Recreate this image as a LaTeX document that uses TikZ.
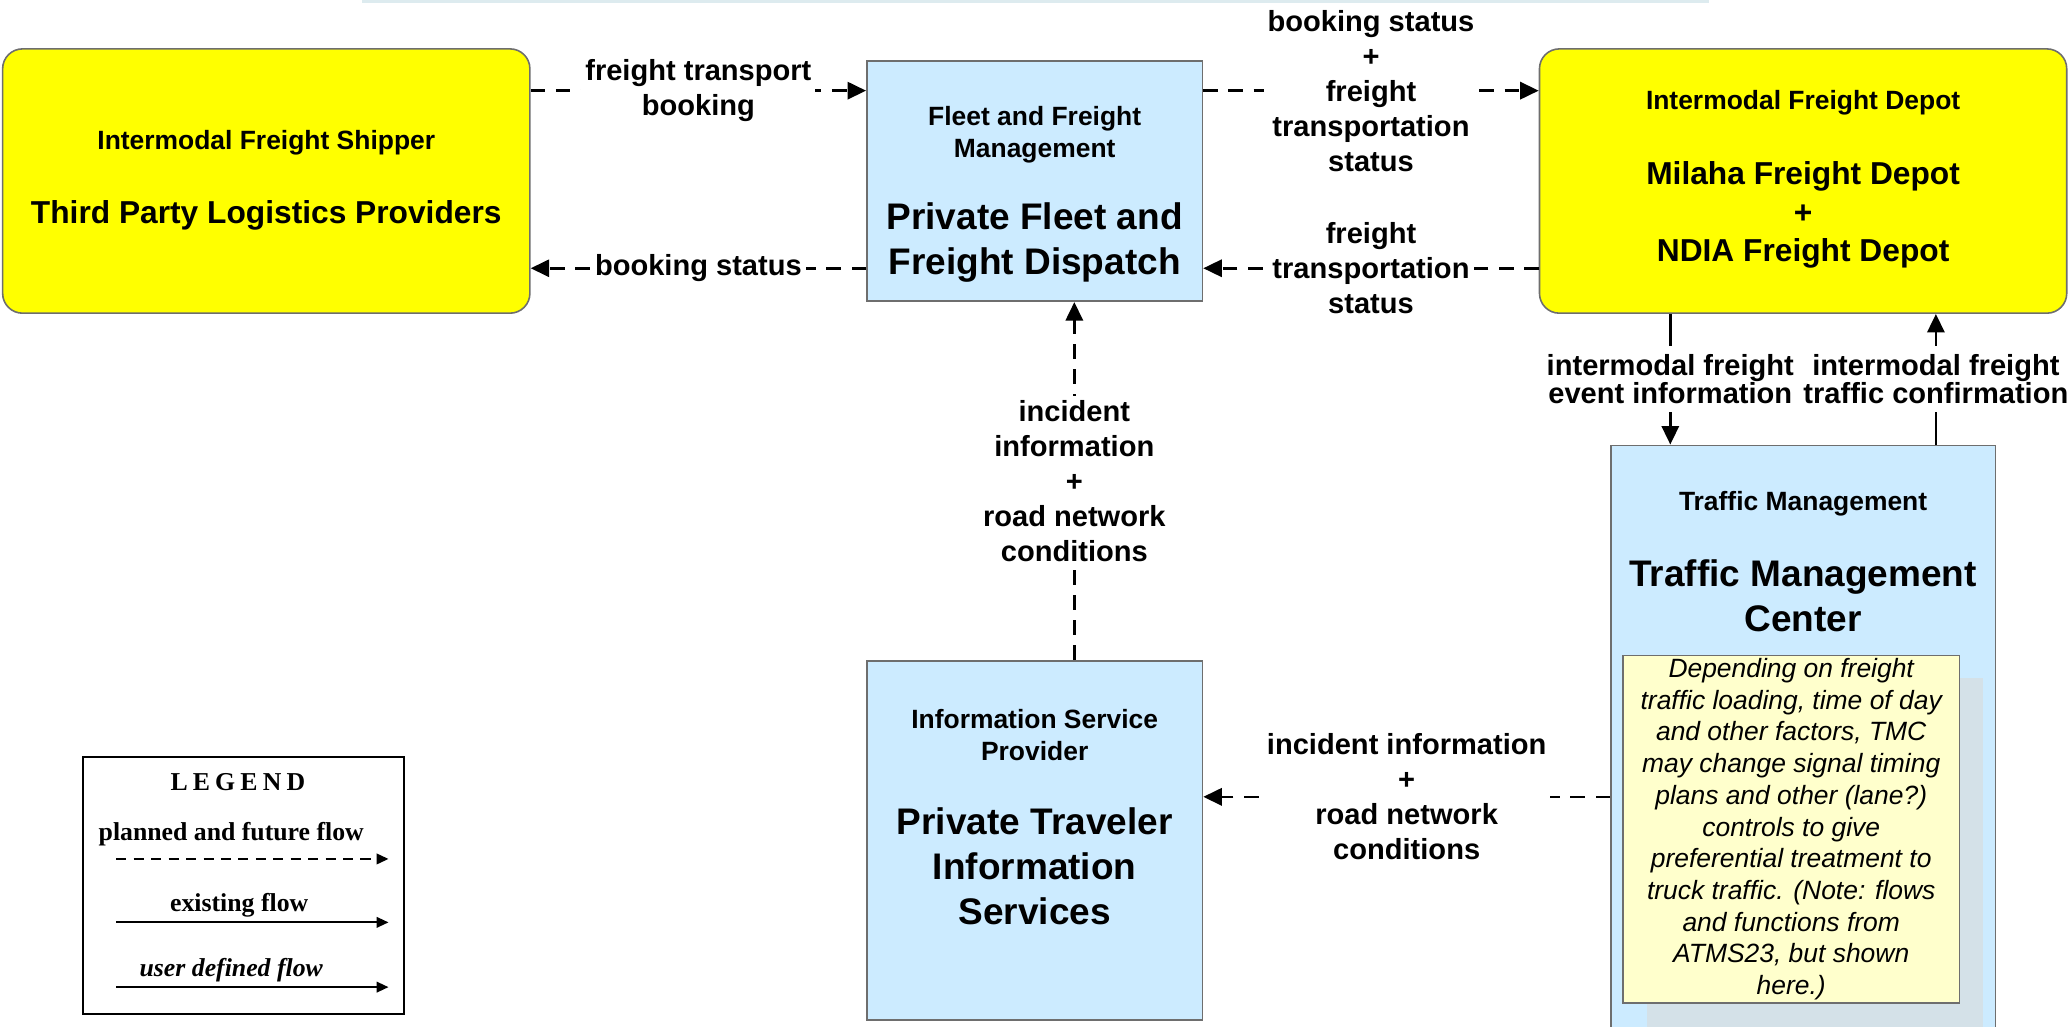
\documentclass[tikz,border=0pt]{standalone}
\usepackage{fontspec}
\setmainfont{Liberation Sans}
\newfontfamily\legendfont{Liberation Serif}
\usepackage{tikz}
\usetikzlibrary{shapes,arrows.meta,positioning,calc}
\usepackage{xcolor}

\definecolor{boxblue}{HTML}{CCEBFF}
\definecolor{depotyellow}{HTML}{FFFF00}
\definecolor{noteyellow}{HTML}{FFFFCC}
\definecolor{shadowgray}{HTML}{D4E1E8}
\definecolor{edgegray}{HTML}{6E6E6E}
\definecolor{topline}{HTML}{DDEBEF}

\begin{document}
\begin{tikzpicture}[
    x=0.5pt, y=-0.5pt,
    every node/.style={font=\bfseries},
    yellowbox/.style={rectangle, draw=edgegray, line width=0.6pt, fill=depotyellow, rounded corners=7.5pt, minimum width=199.5pt, minimum height=100pt, inner sep=0pt},
    bluebox/.style={rectangle, draw=edgegray, line width=0.6pt, fill=boxblue, inner sep=0pt},
    typetext/.style={font=\bfseries\fontsize{10}{12}\selectfont, align=center},
    nametext/.style={font=\bfseries\fontsize{14}{17}\selectfont, align=center},
    flowlabel/.style={font=\bfseries\fontsize{11}{13.25}\selectfont, align=center, fill=white, inner sep=1.5pt},
    arrow/.style={-{Triangle[length=7pt, width=6.5pt]}, line width=1pt},
    planned/.style={arrow, dash pattern=on 5.5pt off 4pt},
    legendtext/.style={font=\legendfont\bfseries\fontsize{9.75}{11}\selectfont},
    legendarrow/.style={-{Triangle[length=4.5pt, width=4pt]}, line width=0.75pt}
]
\useasboundingbox (0,0) rectangle (1568,777);
\clip (0,0) rectangle (1568,777);

% faint edge at the top
\fill[topline] (274,0) rectangle (1293,2.5);

% ============ FREIGHT SIDE (TOP) ============
\node[yellowbox] (shipper) at (201.5,137) {};
\node[typetext] (shipper_type) at (201.5,108) {Intermodal Freight Shipper};
\node[font=\bfseries\fontsize{12}{14.5}\selectfont] (shipper_name) at (201.5,162.7) {Third Party Logistics Providers};

\node[bluebox, minimum width=127pt, minimum height=91pt] (fleet_mgmt) at (783,137) {};
\node[typetext] (fleet_type) at (783,102) {Fleet and Freight\\Management};
\node[nametext] (fleet_name) at (783,183.5) {Private Fleet and\\Freight Dispatch};

\node[yellowbox] (depot) at (1364.5,137) {};
\node[typetext] (depot_type) at (1364.5,78) {Intermodal Freight Depot};
\node[font=\bfseries\fontsize{12}{14.5}\selectfont, align=center] (depot_name) at (1364.5,162.7) {Milaha Freight Depot\\+\\NDIA Freight Depot};

% ============ TRAVELER SIDE (BOTTOM) ============
\node[bluebox, minimum width=127pt, minimum height=136pt] (isp) at (783,636) {};
\node[typetext] (isp_type) at (783,556.3) {Information Service\\Provider};
\node[nametext] (isp_name) at (783,655.5) {Private Traveler\\Information\\Services};

\node[bluebox, minimum width=145.5pt, minimum height=231.5pt] (tmc) at (1364.5,568.5) {};
\node[typetext] (tmc_type) at (1364.5,381) {Traffic Management};
\node[nametext] (tmc_name) at (1364.5,451) {Traffic Management\\Center};

% note with its shadow
\fill[shadowgray] (1246,513) rectangle (1501,800);
\node[rectangle, draw=edgegray, line width=0.6pt, fill=noteyellow, minimum width=127.5pt, minimum height=131.5pt, inner sep=0pt,
      font=\itshape\mdseries\fontsize{10}{12}\selectfont, align=center] (tmc_note) at (1355.5,627.5)
      {Depending on freight\\traffic loading, time of day\\and other factors, TMC\\may change signal timing\\plans and other (lane?)\\controls to give\\preferential treatment to\\truck traffic. (Note: flows\\and functions from\\ATMS23, but shown\\here.)};

% ============ FLOWS ============
\draw[planned] ([yshift=34.2pt]shipper.east) -- node[flowlabel] (lbl_booking) {freight transport\\booking} ([yshift=34.2pt]fleet_mgmt.west);
\draw[planned] ([yshift=-33pt]fleet_mgmt.west) -- node[flowlabel] (lbl_status) {booking status} ([yshift=-33pt]shipper.east);
\draw[planned] ([yshift=34.2pt]fleet_mgmt.east) -- node[flowlabel] (lbl_both) {booking status\\+\\freight\\transportation\\status} ([yshift=34.2pt]depot.west);
\draw[planned] ([yshift=-33pt]depot.west) -- node[flowlabel] (lbl_transp) {freight\\transportation\\status} ([yshift=-33pt]fleet_mgmt.east);
\draw[planned] ([xshift=15pt]isp.north) -- node[flowlabel] (lbl_incident) {incident\\information\\+\\road network\\conditions} ([xshift=15pt]fleet_mgmt.south);
\draw[arrow] ([xshift=-50.25pt]depot.south) -- node[flowlabel, font=\bfseries\fontsize{11}{10.75}\selectfont, inner sep=3pt] (lbl_event) {intermodal freight\\event information} ([xshift=-50.25pt]tmc.north);
\draw[arrow] ([xshift=50.25pt]tmc.north) -- node[flowlabel, font=\bfseries\fontsize{11}{10.75}\selectfont, inner sep=3pt] (lbl_confirm) {intermodal freight\\traffic confirmation} ([xshift=50.25pt]depot.south);
\draw[planned] ([yshift=-17.25pt]tmc.west) -- node[flowlabel] (lbl_road) {incident information\\+\\road network\\conditions} ([yshift=16.5pt]isp.east);

% ============ LEGEND ============
\node[rectangle, draw=black, line width=0.75pt, minimum width=121.5pt, minimum height=97pt] (legend) at (184.5,670) {};
\node[legendtext] (legend_title) at (180,592) {\addfontfeature{LetterSpace=20}LEGEND};
\node[legendtext] (legend_planned) at (175,631) {planned and future flow};
\node[legendtext] (legend_existing) at (181,685) {existing flow};
\node[legendtext, font=\legendfont\bfseries\itshape\fontsize{9.75}{11}\selectfont] (legend_user) at (175,734) {user defined flow};
\coordinate (lg_start1) at (88,650);
\coordinate (lg_end1) at (294,650);
\coordinate (lg_start2) at (88,698);
\coordinate (lg_end2) at (294,698);
\coordinate (lg_start3) at (88,747);
\coordinate (lg_end3) at (294,747);
\draw[legendarrow, dash pattern=on 3.8pt off 2.8pt] (lg_start1) -- (lg_end1);
\draw[legendarrow] (lg_start2) -- (lg_end2);
\draw[legendarrow] (lg_start3) -- (lg_end3);

\end{tikzpicture}
\end{document}
